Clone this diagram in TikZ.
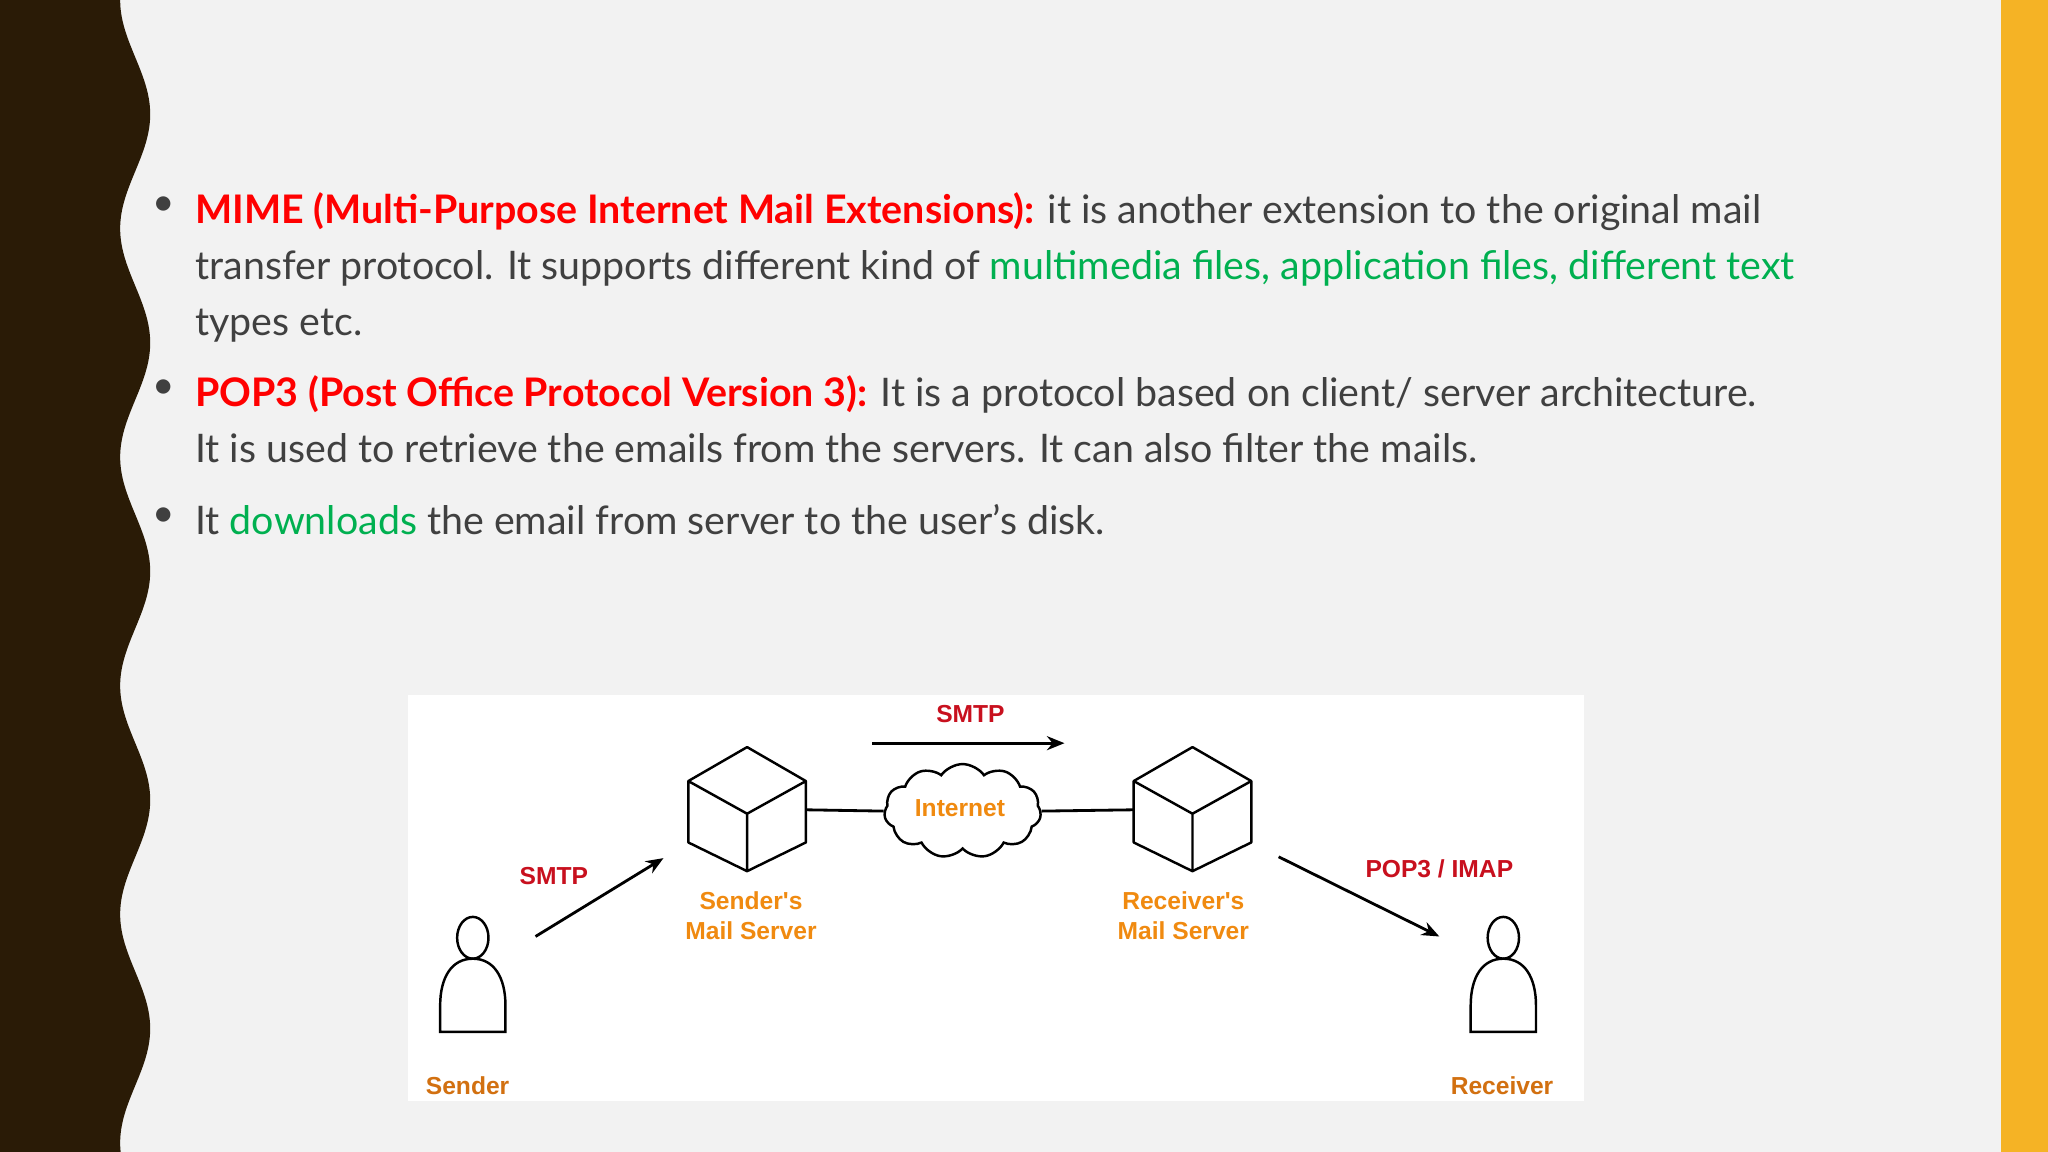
\documentclass[tikz,border=0pt]{standalone}
\usepackage{fontspec}
\setmainfont{Lato}
\newfontfamily\arialf{Liberation Sans}
\usetikzlibrary{shapes.symbols,arrows.meta}
\definecolor{bg}{HTML}{F2F2F2}
\definecolor{band}{HTML}{2A1B06}
\definecolor{yel}{HTML}{F5B325}
\definecolor{tgrey}{HTML}{404040}
\definecolor{tred}{HTML}{FF0000}
\definecolor{tgreen}{HTML}{00B050}
\definecolor{dred}{HTML}{C8101E}
\definecolor{dor}{HTML}{F08A10}
\definecolor{dor2}{HTML}{D27010}
\tikzset{
  line/.style={anchor=base west,inner sep=0pt,font=\fontsize{11.2}{13}\selectfont,text=tgrey},
  bul/.style={anchor=center,inner sep=0pt,font=\fontsize{11}{13}\selectfont,text=tgrey},
  lab/.style={font=\arialf\bfseries\fontsize{7}{8.6}\selectfont,align=center,inner sep=0pt},
  conn/.style={line width=0.8pt,black},
  arr/.style={line width=0.8pt,-{Stealth[length=5pt,width=4pt]}},
  cube/.pic={\draw[line width=0.7pt,line join=round] (0,-48)--(-45,-22)--(-45,25)--(0,47)--(45,25)--(45,-22)--cycle (-45,-22)--(0,3)--(45,-22) (0,3)--(0,47);},
  person/.pic={\draw[line width=0.7pt] (0,-30) ellipse (12 and 16);
    \draw[line width=0.7pt] (-25,42)--(-25,22) .. controls (-25,0) and (-16,-14) .. (0,-14) .. controls (16,-14) and (25,0) .. (25,22)--(25,42)--cycle;}
}
\begin{document}
\begin{tikzpicture}[x=0.01306cm,y=-0.01306cm]
\fill[bg] (0,0) rectangle (1568,882);
\useasboundingbox (0,0) rectangle (1568,882);
\fill[yel] (1532,0) rectangle (1568,882);
\fill[band] (0,0) -- plot[domain=0:882,samples=200,smooth] ({103.5-11.5*cos(2.0571*\x)},\x) -- (0,882) -- cycle;
% bullets
\node[bul] (b1) at (125,158) {\textbullet};
\node[bul] (b2) at (125,298) {\textbullet};
\node[bul] (b3) at (125,396) {\textbullet};
\node[line] (l1) at (149,171) {\textcolor{tred}{\bfseries MIME (Multi-Purpose Internet Mail Extensions):} it is another extension to the original mail};
\node[line] (l2) at (149,214) {transfer protocol. It supports different kind of \textcolor{tgreen}{multimedia files, application files, different text}};
\node[line] (l3) at (149,257) {types etc.};
\node[line] (l4) at (149,311) {\textcolor{tred}{\bfseries POP3 (Post Office Protocol Version 3):} It is a protocol based on client/ server architecture.};
\node[line] (l5) at (149,354) {It is used to retrieve the emails from the servers. It can also filter the mails.};
\node[line] (l6) at (149,409) {It \textcolor{tgreen}{downloads} the email from server to the user’s disk.};
% diagram
\fill[white] (312,532) rectangle (1213,843);
\coordinate (sc) at (572,620);
\coordinate (rc) at (913,620);
\pic at (sc) {cube};
\pic at (rc) {cube};
\node[cloud,draw,line width=0.7pt,cloud puffs=11,cloud puff arc=110,aspect=1.7,minimum width=120*0.01306cm,minimum height=72*0.01306cm,inner sep=0pt,fill=white] (cl) at (737,621) {};
\node[lab,text=dor] (inet) at (735,619) {Internet};
\coordinate (scr) at (617,620);
\coordinate (rcl) at (868,620);
\draw[conn] (scr) -- (cl.west);
\draw[conn] (cl.east) -- (rcl);
\node[lab,text=dred] (smtp1) at (743,547) {SMTP};
\coordinate (a1s) at (668,569); \coordinate (a1e) at (815,569);
\draw[arr] (a1s) -- (a1e);
\node[lab,text=dred] (smtp2) at (424,671) {SMTP};
\coordinate (a2s) at (410,717); \coordinate (a2e) at (508,657);
\draw[arr] (a2s) -- (a2e);
\node[lab,text=dred] (pop) at (1102,665) {POP3 / IMAP};
\coordinate (a3s) at (979,656); \coordinate (a3e) at (1102,717);
\draw[arr] (a3s) -- (a3e);
\node[lab,text=dor] (sms) at (575,701) {Sender's\\Mail Server};
\node[lab,text=dor] (rms) at (906,701) {Receiver's\\Mail Server};
\pic at (362,748) {person};
\pic at (1151,748) {person};
\node[lab,text=dor2] (snd) at (358,831) {Sender};
\node[lab,text=dor2] (rcv) at (1150,831) {Receiver};
\end{tikzpicture}
\end{document}
